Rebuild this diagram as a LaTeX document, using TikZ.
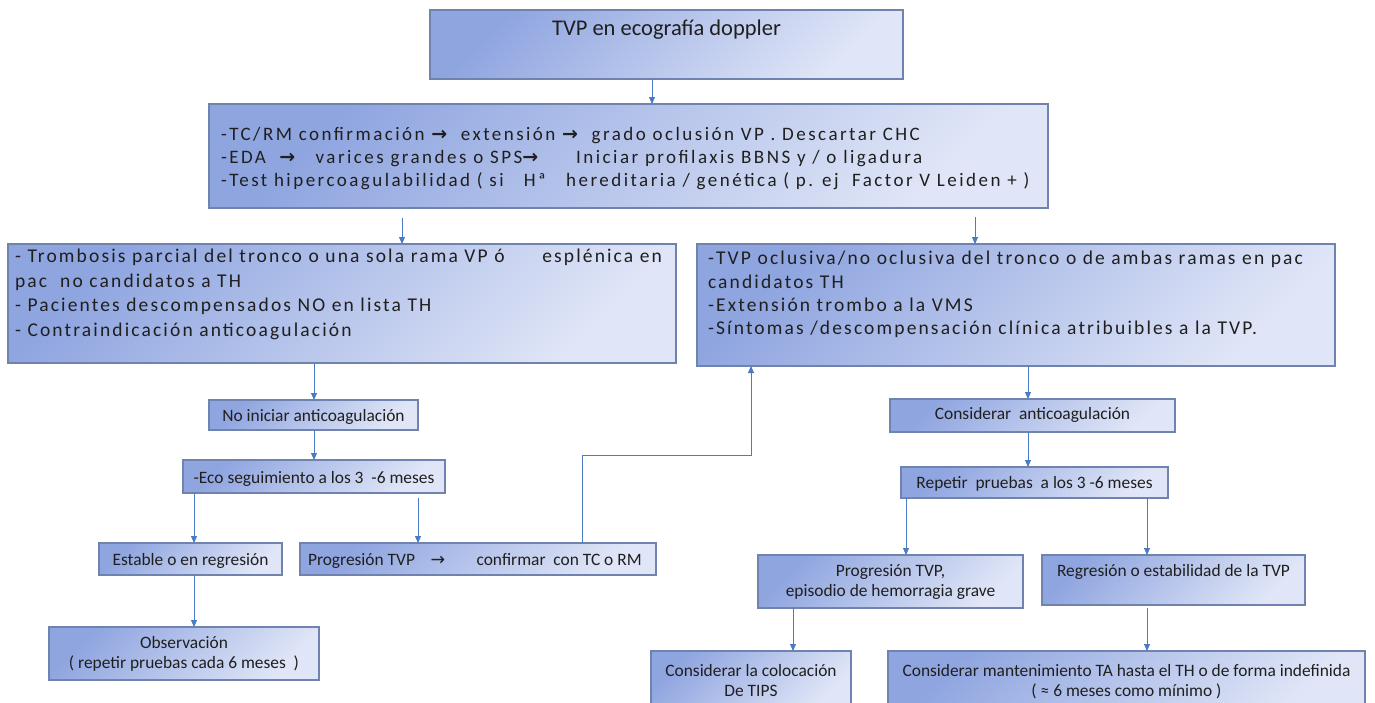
\documentclass[tikz,border=0pt]{standalone}
\usepackage{fontspec}
\setmainfont{Carlito}
\newfontfamily\wideA{Carlito}[LetterSpace=11]
\newfontfamily\wideB{Carlito}[LetterSpace=13]
\newfontfamily\symf{DejaVu Sans}
\usetikzlibrary{arrows.meta}

\definecolor{boxdark}{HTML}{8FA5E0}
\definecolor{boxlight}{HTML}{E0E6F7}
\definecolor{boxline}{HTML}{7083AE}
\definecolor{arrcol}{HTML}{4A7BC4}
\definecolor{txt}{HTML}{1F1F1F}

\newcommand{\Ar}{{\symf\bfseries →}}
\newcommand{\ar}{{\symf →}}
% width, height, top pad, left pad, font, content
\newcommand{\BoxL}[6]{\parbox[c][#2][t]{#1}{#5\raggedright\setlength{\leftskip}{#4}\vspace*{#3}\strut #6}}
% width, height, top pad, font, content
\newcommand{\BoxC}[5]{\parbox[c][#2][t]{#1}{#4\centering\vspace*{#3}\strut #5}}
\newcommand{\fsmall}{\fontsize{17.4}{20}\selectfont}

\tikzset{
  gbox/.style={draw=boxline, line width=1.1pt, top color=boxdark, bottom color=boxlight,
    shading angle=45, inner sep=0pt, outer sep=0pt, anchor=north west, text=txt},
  arr/.style={draw=arrcol, line width=0.9pt, -{Triangle[width=6pt,length=7pt]}},
}

\begin{document}
\begin{tikzpicture}[x=1pt,y=-1pt]
\clip (0,0) rectangle (1375,702);
\fill[white] (0,0) rectangle (1375,702);

% x positions of connectors
\coordinate (xA) at (402,0);
\coordinate (xB) at (975,0);
\coordinate (xC) at (314,0);
\coordinate (xD) at (194,0);
\coordinate (xE) at (418,0);
\coordinate (t1) at (582,455);
\coordinate (t2) at (751,455);
\coordinate (xG) at (1028,0);
\coordinate (xH) at (906,0);
\coordinate (xI) at (1147,0);
\coordinate (xJ) at (793,0);

\node[gbox] (b1) at (430,10) {\BoxC{473pt}{69pt}{6.5pt}{\fontsize{22.5}{27}\selectfont}{TVP en ecografía doppler}};

\node[gbox] (b2) at (209,104) {\BoxL{839pt}{104pt}{20pt}{12pt}{\fontsize{19}{23}\selectfont\wideB}{%
-TC/RM confirmación \Ar\ \ extensión \Ar\ \ grado oclusión VP . Descartar CHC\\
-EDA \ \Ar\ \ \ varices grandes o SPS\Ar\hspace{2em}Iniciar profilaxis BBNS y / o ligadura\\
-Test hipercoagulabilidad ( si \ \ Hª \ \ hereditaria / genética ( p. ej \ Factor V Leiden + )}};

\node[gbox] (b3) at (8,244) {\BoxL{668pt}{119pt}{1.5pt}{7pt}{\fontsize{19.5}{24.6}\selectfont\wideA}{%
- Trombosis parcial del tronco o una sola rama VP ó \hspace{1.6em}esplénica en\\
pac \ no candidatos a TH\\
- Pacientes descompensados NO en lista TH\\
- Contraindicación anticoagulación}};

\node[gbox] (b4) at (697,244) {\BoxL{638pt}{122pt}{4.5pt}{11pt}{\fontsize{19.5}{23.3}\selectfont\wideA}{%
-TVP oclusiva/no oclusiva del tronco o de ambas ramas en pac\\
candidatos TH\\
-Extensión trombo a la VMS\\
-Síntomas /descompensación clínica atribuibles a la TVP.}};

\node[gbox] (noinic) at (209,400) {\BoxC{209pt}{30pt}{7pt}{\fsmall}{No iniciar anticoagulación}};
\node[gbox] (eco) at (183,460) {\BoxC{262pt}{33pt}{9pt}{\fsmall}{-Eco seguimiento a los 3 \ -6 meses}};
\node[gbox] (est) at (99,543) {\BoxC{183pt}{32pt}{8pt}{\fsmall}{Estable o en regresión}};
\node[gbox] (prog) at (300,543) {\BoxL{356pt}{32pt}{8pt}{8pt}{\fsmall}{Progresión TVP\hspace{0.9em}\ar\hspace{1.8em}confirmar \ con TC o RM}};
\node[gbox] (obs) at (49,627) {\BoxC{270pt}{53pt}{8pt}{\fontsize{17.4}{19.5}\selectfont}{Observación\\( repetir pruebas cada 6 meses \ )}};

\node[gbox] (cons) at (890,399) {\BoxC{285pt}{33pt}{6pt}{\fsmall}{Considerar \ anticoagulación}};
\node[gbox] (rep) at (901,467) {\BoxC{267pt}{31pt}{7pt}{\fsmall}{Repetir \ pruebas \ a los 3 -6 meses}};
\node[gbox] (progT) at (758,555) {\BoxC{265pt}{53pt}{7pt}{\fsmall}{Progresión TVP,\\episodio de hemorragia grave}};
\node[gbox] (regr) at (1042,555) {\BoxC{263pt}{50pt}{7pt}{\fsmall}{Regresión o estabilidad de la TVP}};
\node[gbox] (tips) at (651,651) {\BoxC{200pt}{58pt}{11pt}{\fsmall}{Considerar la colocación\\De TIPS}};
\node[gbox] (mant) at (888,651) {\BoxC{477pt}{58pt}{11pt}{\fsmall}{Considerar mantenimiento TA hasta el TH o de forma indefinida\\( ≈ 6 meses como mínimo )}};

% connectors
\draw[arr] ([xshift=-14.5pt]b1.south) -- ([xshift=-14.5pt]b1.south |- b2.north);
\draw[arr, shorten <=10pt] (b2.south -| xA) -- (b3.north -| xA);
\draw[arr, shorten <=9pt] (b2.south -| xB) -- (b4.north -| xB);
\draw[arr] (b3.south -| xC) -- (noinic.north -| xC);
\draw[arr] (noinic.south -| xC) -- (eco.north -| xC);
\draw[arr] (eco.south -| xD) -- (est.north -| xD);
\draw[arr, shorten <=5pt] (eco.south -| xE) -- (prog.north -| xE);
\draw[arr] (est.south -| xD) -- (obs.north -| xD);
\draw[arr] (prog.north -| t1) -- (t1) -- (t2) -- (t2 |- b4.south);
\draw[arr] (b4.south -| xG) -- (cons.north -| xG);
\draw[arr] (cons.south -| xG) -- (rep.north -| xG);
\draw[arr] (rep.south -| xH) -- (progT.north -| xH);
\draw[arr] (rep.south -| xI) -- (regr.north -| xI);
\draw[arr] (progT.south -| xJ) -- (tips.north -| xJ);
\draw[arr, shorten <=3pt] (regr.south -| xI) -- (mant.north -| xI);
\end{tikzpicture}
\end{document}
